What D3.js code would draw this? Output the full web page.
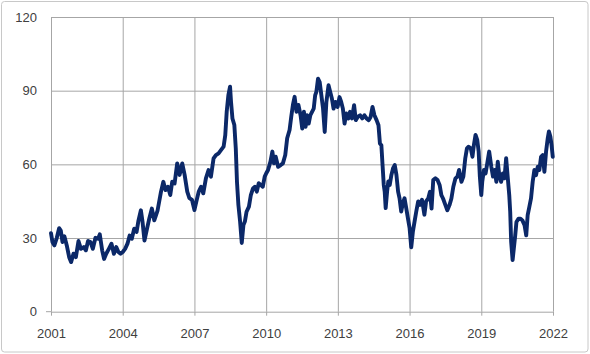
<!DOCTYPE html>
<html>
<head>
<meta charset="utf-8">
<script src="https://cdn.jsdelivr.net/npm/d3@7"></script>
<style>
  html, body { margin: 0; padding: 0; background: #ffffff; }
  svg { display: block; }
</style>
</head>
<body>
<div id="chart"></div>
<script>
// ---- data (decimal year, value) ----
const yearTicks = [2001, 2004, 2007, 2010, 2013, 2016, 2019, 2022]
const valueTicks = [0, 30, 60, 90, 120]

const dates = [
  2001.00, 2001.06, 2001.14, 2001.24, 2001.34, 2001.41, 2001.48, 2001.56, 2001.66, 2001.76,
  2001.84, 2001.94, 2002.04, 2002.15, 2002.25, 2002.37, 2002.46, 2002.55, 2002.65, 2002.75,
  2002.86, 2002.97, 2003.04, 2003.14, 2003.22, 2003.31, 2003.42, 2003.53, 2003.63, 2003.73,
  2003.82, 2003.91, 2004.00, 2004.10, 2004.20, 2004.29, 2004.38, 2004.48, 2004.58, 2004.66,
  2004.76, 2004.83, 2004.91, 2005.00, 2005.11, 2005.22, 2005.32, 2005.46, 2005.60, 2005.70,
  2005.79, 2005.89, 2005.99, 2006.07, 2006.17, 2006.28, 2006.38, 2006.49, 2006.59, 2006.70,
  2006.79, 2006.90, 2007.00, 2007.08, 2007.18, 2007.28, 2007.37, 2007.48, 2007.59, 2007.69,
  2007.80, 2007.90, 2008.01, 2008.11, 2008.22, 2008.29, 2008.35, 2008.42, 2008.49, 2008.53,
  2008.59, 2008.67, 2008.73, 2008.78, 2008.84, 2008.91, 2008.98, 2009.05, 2009.11, 2009.18,
  2009.28, 2009.36, 2009.45, 2009.53, 2009.61, 2009.69, 2009.78, 2009.86, 2009.94, 2010.00,
  2010.08, 2010.18, 2010.26, 2010.33, 2010.40, 2010.50, 2010.61, 2010.70, 2010.80, 2010.88,
  2010.98, 2011.05, 2011.12, 2011.19, 2011.27, 2011.35, 2011.44, 2011.51, 2011.58, 2011.65,
  2011.71, 2011.78, 2011.85, 2011.92, 2011.99, 2012.05, 2012.10, 2012.17, 2012.24, 2012.31,
  2012.38, 2012.45, 2012.52, 2012.61, 2012.68, 2012.75, 2012.82, 2012.90, 2012.99, 2013.07,
  2013.14, 2013.21, 2013.28, 2013.35, 2013.44, 2013.51, 2013.59, 2013.68, 2013.75, 2013.83,
  2013.93, 2014.02, 2014.11, 2014.20, 2014.29, 2014.37, 2014.45, 2014.53, 2014.62, 2014.70,
  2014.76, 2014.82, 2014.87, 2014.92, 2014.96, 2015.00, 2015.06, 2015.11, 2015.17, 2015.24,
  2015.31, 2015.38, 2015.45, 2015.52, 2015.58, 2015.65, 2015.72, 2015.79, 2015.86, 2015.93,
  2016.00, 2016.07, 2016.14, 2016.21, 2016.28, 2016.36, 2016.44, 2016.52, 2016.62, 2016.69,
  2016.78, 2016.85, 2016.92, 2016.99, 2017.08, 2017.17, 2017.26, 2017.33, 2017.40, 2017.50,
  2017.58, 2017.67, 2017.75, 2017.83, 2017.92, 2018.00, 2018.07, 2018.17, 2018.25, 2018.33,
  2018.40, 2018.47, 2018.56, 2018.63, 2018.69, 2018.76, 2018.83, 2018.89, 2018.94, 2019.00,
  2019.04, 2019.11, 2019.18, 2019.25, 2019.33, 2019.42, 2019.49, 2019.56, 2019.63, 2019.69,
  2019.76, 2019.83, 2019.90, 2019.97, 2020.04, 2020.11, 2020.17, 2020.21, 2020.25, 2020.31,
  2020.36, 2020.42, 2020.47, 2020.56, 2020.64, 2020.72, 2020.81, 2020.88, 2020.94, 2021.01,
  2021.08, 2021.15, 2021.22, 2021.29, 2021.36, 2021.43, 2021.50, 2021.57, 2021.64, 2021.71,
  2021.78, 2021.83, 2021.89, 2021.94, 2021.99
]

const values = [
  32.0, 28.4, 27.0, 30.0, 34.0, 33.0, 28.4, 30.7, 27.0, 22.2,
  20.2, 23.6, 22.2, 28.8, 25.6, 26.3, 25.0, 28.8, 28.4, 25.6,
  30.1, 29.7, 31.5, 25.0, 21.5, 23.6, 25.6, 27.7, 23.6, 26.3,
  24.3, 23.6, 24.3, 25.6, 27.7, 31.0, 29.7, 33.8, 32.5, 37.2,
  41.3, 36.5, 29.0, 33.0, 37.9, 42.0, 37.2, 41.3, 48.8, 52.9,
  49.5, 50.9, 47.5, 52.9, 52.2, 60.4, 55.7, 60.4, 55.7, 48.9,
  46.2, 45.5, 41.4, 44.8, 48.9, 50.9, 48.2, 54.3, 57.7, 55.0,
  62.4, 63.8, 64.5, 65.8, 67.2, 71.9, 81.4, 88.2, 91.6, 85.5,
  78.7, 76.0, 66.5, 52.9, 43.4, 36.7, 28.0, 35.3, 36.7, 40.7,
  42.8, 47.5, 50.2, 50.9, 48.9, 52.3, 51.6, 50.9, 55.0, 56.3,
  57.7, 61.1, 65.2, 60.4, 63.1, 59.0, 59.7, 60.4, 63.8, 70.6,
  74.0, 79.4, 84.2, 87.5, 81.4, 84.2, 80.0, 74.6, 81.4, 75.3,
  80.0, 76.6, 80.0, 81.4, 82.7, 88.1, 89.5, 94.9, 93.5, 88.1,
  82.7, 73.2, 85.4, 92.2, 89.5, 86.8, 82.7, 85.4, 83.4, 87.4,
  85.4, 82.7, 76.6, 80.7, 78.7, 81.4, 78.7, 84.1, 78.0, 79.3,
  80.0, 78.7, 80.0, 78.7, 78.0, 79.3, 83.4, 80.0, 78.0, 75.9,
  68.5, 67.8, 59.7, 51.6, 48.9, 42.2, 48.9, 53.0, 51.6, 55.7,
  58.4, 59.7, 55.7, 48.9, 46.2, 40.8, 44.2, 46.2, 42.2, 38.1,
  34.1, 26.2, 32.7, 36.8, 40.8, 44.9, 43.5, 45.6, 39.5, 44.9,
  46.1, 48.8, 42.0, 53.6, 54.3, 53.6, 51.5, 47.5, 46.1, 43.4,
  41.3, 43.4, 46.1, 50.9, 54.3, 55.0, 57.7, 52.9, 55.0, 62.5,
  66.5, 67.2, 66.5, 63.1, 67.9, 72.0, 70.0, 65.2, 55.0, 47.5,
  52.9, 57.7, 56.3, 60.4, 65.2, 59.0, 55.0, 57.7, 52.9, 61.1,
  55.0, 52.9, 56.3, 54.3, 62.5, 54.3, 47.5, 40.6, 28.4, 21.0,
  25.6, 31.1, 36.5, 37.9, 37.9, 37.2, 35.2, 31.1, 39.3, 42.7,
  46.1, 52.9, 57.7, 55.6, 59.0, 57.7, 63.1, 63.8, 57.0, 65.2,
  70.6, 73.4, 71.3, 67.9, 63.1
]

const W = 590, H = 354
const margin = { top: 17, right: 37, bottom: 42.3, left: 51 }
const font = '"Liberation Sans", Arial, sans-serif'
const textColor = '#404040'
const gridColor = '#a6a6a6'
const lineColor = '#0b2868'

const svg = d3.select('#chart').append('svg')
  .attr('width', W).attr('height', H)

// chart frame
svg.append('rect')
  .attr('x', 1.5).attr('y', 1.5)
  .attr('width', W - 3.5).attr('height', H - 3.5)
  .attr('rx', 3)
  .attr('fill', '#ffffff')
  .attr('stroke', '#c8c8c8').attr('stroke-width', 1)

const x = d3.scaleLinear().domain([2001, 2022]).range([margin.left, W - margin.right])
const y = d3.scaleLinear().domain([0, 120]).range([H - margin.bottom, margin.top])

// horizontal gridlines + y labels
svg.append('g')
  .attr('transform', `translate(${margin.left},0)`)
  .call(d3.axisLeft(y).tickValues(valueTicks).tickSize(-(x.range()[1] - x.range()[0])).tickPadding(14))
  .call(g => {
    g.select('.domain').remove()
    g.selectAll('.tick line').attr('stroke', gridColor)
    g.selectAll('.tick text')
      .attr('fill', textColor).attr('font-size', '13px').attr('font-family', font)
  })

// vertical gridlines + x labels
svg.append('g')
  .attr('transform', `translate(0,${H - margin.bottom})`)
  .call(d3.axisBottom(x).tickValues(yearTicks).tickFormat(d3.format('d'))
    .tickSize(-(y.range()[0] - y.range()[1])).tickPadding(17))
  .call(g => {
    g.select('.domain').remove()
    g.selectAll('.tick line').attr('stroke', gridColor)
    g.selectAll('.tick text')
      .attr('fill', textColor).attr('font-size', '13px').attr('font-family', font)
  })

// small outside tick marks on the horizontal axis
svg.append('g')
  .attr('transform', `translate(0,${H - margin.bottom})`)
  .call(d3.axisBottom(x).tickValues(yearTicks).tickSize(4).tickFormat(''))
  .call(g => {
    g.select('.domain').remove()
    g.selectAll('.tick line').attr('stroke', gridColor)
  })

svg.append('line')
  .attr('x1', margin.left - 5).attr('x2', margin.left)
  .attr('y1', y(0)).attr('y2', y(0))
  .attr('stroke', gridColor)

// series
const points = dates.map((d, i) => [d, values[i]])
svg.append('path')
  .datum(points)
  .attr('fill', 'none')
  .attr('stroke', lineColor)
  .attr('stroke-width', 3.9)
  .attr('stroke-linejoin', 'round')
  .attr('stroke-linecap', 'round')
  .attr('d', d3.line().x(d => x(d[0])).y(d => y(d[1])))
</script>
</body>
</html>
